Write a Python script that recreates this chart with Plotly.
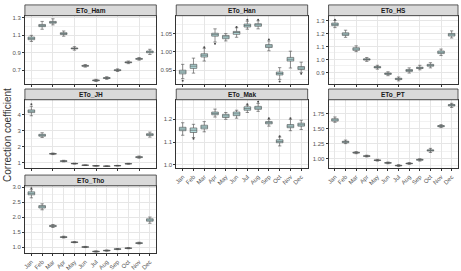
import plotly.graph_objects as go

MONTHS = ["Jan", "Feb", "Mar", "Apr", "May", "Jun", "Jul", "Aug", "Sep", "Oct", "Nov", "Dec"]
STATIONS = ["ETo_Ham", "ETo_Han", "ETo_HS", "ETo_JH", "ETo_Mak", "ETo_PT", "ETo_Tho"]

# ---- box statistics (lo, q1, med, q3, hi) ----
HAM_LO = [1.03, 1.17, 1.22, 1.09, 0.93, 0.735, 0.57, 0.595, 0.685, 0.775, 0.815, 0.88]
HAM_Q1 = [1.05, 1.20, 1.24, 1.11, 0.945, 0.745, 0.578, 0.605, 0.695, 0.785, 0.825, 0.90]
HAM_MED = [1.065, 1.21, 1.25, 1.12, 0.95, 0.75, 0.583, 0.61, 0.70, 0.79, 0.83, 0.91]
HAM_Q3 = [1.08, 1.225, 1.26, 1.13, 0.955, 0.755, 0.588, 0.615, 0.705, 0.795, 0.835, 0.92]
HAM_HI = [1.10, 1.26, 1.29, 1.15, 0.97, 0.765, 0.595, 0.625, 0.715, 0.805, 0.845, 0.94]

HAN_LO = [0.927, 0.942, 0.975, 1.027, 1.030, 1.040, 1.062, 1.063, 1.003, 0.925, 0.956, 0.944]
HAN_Q1 = [0.940, 0.955, 0.986, 1.043, 1.036, 1.048, 1.068, 1.070, 1.012, 0.937, 0.975, 0.952]
HAN_MED = [0.945, 0.961, 0.991, 1.047, 1.041, 1.053, 1.072, 1.074, 1.016, 0.941, 0.980, 0.956]
HAN_Q3 = [0.950, 0.966, 0.995, 1.051, 1.045, 1.056, 1.076, 1.077, 1.020, 0.945, 0.985, 0.960]
HAN_HI = [0.966, 0.983, 1.010, 1.063, 1.050, 1.066, 1.084, 1.085, 1.030, 0.957, 1.002, 0.972]

HS_LO = [1.245, 1.17, 1.06, 0.985, 0.925, 0.875, 0.835, 0.895, 0.92, 0.935, 1.03, 1.165]
HS_Q1 = [1.26, 1.185, 1.07, 0.995, 0.935, 0.885, 0.845, 0.908, 0.93, 0.948, 1.045, 1.18]
HS_MED = [1.27, 1.195, 1.08, 1.0, 0.94, 0.89, 0.85, 0.915, 0.935, 0.955, 1.055, 1.19]
HS_Q3 = [1.28, 1.205, 1.09, 1.005, 0.945, 0.895, 0.855, 0.922, 0.94, 0.962, 1.065, 1.20]
HS_HI = [1.30, 1.225, 1.105, 1.015, 0.955, 0.905, 0.865, 0.935, 0.955, 0.975, 1.08, 1.22]

JH_LO = [3.95, 2.58, 1.50, 1.04, 0.90, 0.81, 0.77, 0.75, 0.78, 0.89, 1.27, 2.60]
JH_Q1 = [4.15, 2.66, 1.53, 1.07, 0.92, 0.82, 0.78, 0.76, 0.79, 0.91, 1.31, 2.70]
JH_MED = [4.24, 2.72, 1.55, 1.09, 0.93, 0.83, 0.79, 0.77, 0.80, 0.92, 1.34, 2.76]
JH_Q3 = [4.32, 2.78, 1.57, 1.11, 0.94, 0.84, 0.80, 0.78, 0.81, 0.93, 1.37, 2.82]
JH_HI = [4.55, 2.88, 1.60, 1.14, 0.96, 0.85, 0.81, 0.79, 0.82, 0.95, 1.41, 2.92]

MAK_LO = [1.130, 1.120, 1.145, 1.210, 1.200, 1.205, 1.230, 1.235, 1.170, 1.083, 1.150, 1.155]
MAK_Q1 = [1.150, 1.142, 1.158, 1.220, 1.208, 1.216, 1.240, 1.244, 1.180, 1.097, 1.163, 1.170]
MAK_MED = [1.157, 1.152, 1.166, 1.226, 1.215, 1.224, 1.247, 1.250, 1.185, 1.103, 1.170, 1.176]
MAK_Q3 = [1.165, 1.162, 1.174, 1.232, 1.222, 1.232, 1.255, 1.257, 1.190, 1.110, 1.177, 1.183]
MAK_HI = [1.185, 1.178, 1.190, 1.245, 1.230, 1.240, 1.262, 1.270, 1.200, 1.122, 1.200, 1.196]

PT_LO = [1.61, 1.25, 1.08, 1.025, 0.955, 0.91, 0.865, 0.90, 0.955, 1.10, 1.52, 1.86]
PT_Q1 = [1.63, 1.265, 1.09, 1.035, 0.965, 0.92, 0.875, 0.91, 0.97, 1.125, 1.535, 1.885]
PT_MED = [1.65, 1.28, 1.097, 1.04, 0.97, 0.925, 0.88, 0.915, 0.977, 1.136, 1.545, 1.898]
PT_Q3 = [1.67, 1.29, 1.105, 1.045, 0.975, 0.93, 0.885, 0.92, 0.985, 1.145, 1.555, 1.91]
PT_HI = [1.70, 1.31, 1.115, 1.055, 0.985, 0.94, 0.895, 0.93, 0.995, 1.17, 1.57, 1.93]

THO_LO = [2.65, 2.25, 1.66, 1.31, 1.15, 0.99, 0.84, 0.87, 0.92, 0.95, 1.11, 1.80]
THO_Q1 = [2.75, 2.31, 1.69, 1.33, 1.16, 1.00, 0.85, 0.88, 0.93, 0.96, 1.13, 1.87]
THO_MED = [2.80, 2.35, 1.71, 1.34, 1.17, 1.01, 0.86, 0.89, 0.94, 0.97, 1.14, 1.91]
THO_Q3 = [2.85, 2.39, 1.73, 1.35, 1.18, 1.02, 0.87, 0.90, 0.95, 0.98, 1.15, 1.95]
THO_HI = [2.92, 2.45, 1.76, 1.37, 1.19, 1.03, 0.88, 0.91, 0.96, 0.99, 1.17, 2.01]

# outliers (month, value)
HAN_OUT_X = ["Jan", "Mar", "Apr", "Jun", "Jul", "Aug", "Sep", "Oct", "Dec"]
HAN_OUT_Y = [0.921, 1.013, 1.022, 1.068, 1.088, 1.088, 1.034, 0.919, 0.940]
MAK_OUT_X = ["Feb", "Jul", "Aug", "Sep", "Oct", "Nov"]
MAK_OUT_Y = [1.115, 1.266, 1.277, 1.205, 1.126, 1.205]
JH_OUT_X = ["Jan"]
JH_OUT_Y = [4.68]
THO_OUT_X = ["Jan"]
THO_OUT_Y = [2.97]
HS_OUT_X = ["Jan"]
HS_OUT_Y = [1.305]

# tick specs per panel
Y_TICK0 = [0.7, 0.95, 0.9, 1, 1.0, 1.0, 1.0]
Y_DTICK = [0.2, 0.05, 0.1, 1, 0.1, 0.25, 0.5]
Y_FMT = [".1f", ".2f", ".1f", "d", ".1f", ".2f", ".1f"]
Y_RANGE = [[0.54, 1.326], [0.912, 1.099], [0.81, 1.337], [0.64, 4.96],
           [0.985, 1.286], [0.835, 1.99], [0.80, 3.05]]

STATS = [
    (HAM_LO, HAM_Q1, HAM_MED, HAM_Q3, HAM_HI),
    (HAN_LO, HAN_Q1, HAN_MED, HAN_Q3, HAN_HI),
    (HS_LO, HS_Q1, HS_MED, HS_Q3, HS_HI),
    (JH_LO, JH_Q1, JH_MED, JH_Q3, JH_HI),
    (MAK_LO, MAK_Q1, MAK_MED, MAK_Q3, MAK_HI),
    (PT_LO, PT_Q1, PT_MED, PT_Q3, PT_HI),
    (THO_LO, THO_Q1, THO_MED, THO_Q3, THO_HI),
]
OUTS = {1: (HAN_OUT_X, HAN_OUT_Y), 4: (MAK_OUT_X, MAK_OUT_Y), 3: (JH_OUT_X, JH_OUT_Y),
        6: (THO_OUT_X, THO_OUT_Y), 2: (HS_OUT_X, HS_OUT_Y)}

W, H = 461, 271
COLS = [(23, 155), (175, 307), (328, 458)]
ROWS = [(4, 15, 85), (90, 101, 171), (178, 189, 258)]  # strip top, plot top, plot bottom
POS = [(0, 0), (0, 1), (0, 2), (1, 0), (1, 1), (1, 2), (2, 0)]
SHOW_X = [False, False, False, False, True, True, True]

FILL = "#b4dcdc"
LINE = "#4a4a4a"
FONT = "Liberation Sans"

fig = go.Figure()
layout = dict(width=W, height=H, margin=dict(l=0, r=0, t=0, b=0),
              paper_bgcolor="white", plot_bgcolor="white", showlegend=False,
              font=dict(family=FONT, size=6, color="#4d4d4d"))
shapes, annos = [], []

for i, name in enumerate(STATIONS):
    r, c = POS[i]
    x0, x1 = COLS[c]
    st, pt, pb = ROWS[r]
    xa = "xaxis" if i == 0 else f"xaxis{i+1}"
    ya = "yaxis" if i == 0 else f"yaxis{i+1}"
    xr = "x" if i == 0 else f"x{i+1}"
    yr = "y" if i == 0 else f"y{i+1}"
    lo, q1, med, q3, hi = STATS[i]
    fig.add_trace(go.Box(x=MONTHS, lowerfence=lo, q1=q1, median=med, q3=q3, upperfence=hi,
                         xaxis=xr, yaxis=yr, fillcolor=FILL, line=dict(color=LINE, width=0.6),
                         width=0.62, whiskerwidth=0.5, boxpoints=False, hoverinfo="skip"))
    if i in OUTS:
        ox, oy = OUTS[i]
        fig.add_trace(go.Scatter(x=ox, y=oy, mode="markers", xaxis=xr, yaxis=yr,
                                 marker=dict(size=2.0, color=LINE), hoverinfo="skip"))
    layout[xa] = dict(domain=[x0 / W, x1 / W], anchor=yr, type="category",
                      categoryorder="array", categoryarray=MONTHS, range=[-0.6, 11.6],
                      showgrid=True, gridcolor="#e6e6e6", gridwidth=0.6,
                      showline=True, mirror=True, linecolor="#333333", linewidth=0.8,
                      ticks="outside", ticklen=2, tickcolor="#333333", tickwidth=0.6,
                      showticklabels=SHOW_X[i], tickangle=-45,
                      tickfont=dict(size=6, color="#555555"), zeroline=False, fixedrange=True)
    layout[ya] = dict(domain=[1 - pb / H, 1 - pt / H], anchor=xr, range=Y_RANGE[i],
                      tickmode="linear", tick0=Y_TICK0[i], dtick=Y_DTICK[i], tickformat=Y_FMT[i],
                      showgrid=True, gridcolor="#e6e6e6", gridwidth=0.6,
                      minor=dict(tick0=Y_TICK0[i], dtick=Y_DTICK[i] / 2, showgrid=True,
                                 gridcolor="#f2f2f2", gridwidth=0.5, ticks=""),
                      showline=True, mirror=True, linecolor="#333333", linewidth=0.8,
                      ticks="outside", ticklen=2, tickcolor="#333333", tickwidth=0.6,
                      tickfont=dict(size=6, color="#555555"), zeroline=False, fixedrange=True)
    shapes.append(dict(type="rect", xref="paper", yref="paper", x0=x0 / W, x1=x1 / W,
                       y0=1 - pt / H, y1=1 - st / H, fillcolor="#d9d9d9",
                       line=dict(color="#333333", width=0.8), layer="above"))
    annos.append(dict(text="<b>" + name + "</b>", xref="paper", yref="paper", x=(x0 + x1) / 2 / W,
                      y=1 - (st + pt) / 2 / H, showarrow=False, xanchor="center", yanchor="middle",
                      font=dict(size=6.5, color="#1a1a1a", family=FONT)))

annos.append(dict(text="Correction coefficient", xref="paper", yref="paper", x=6 / W,
                  y=1 - 137 / H, textangle=-90, showarrow=False, xanchor="center",
                  yanchor="middle", font=dict(size=10, color="#333333", family=FONT)))
layout["shapes"] = shapes
layout["annotations"] = annos
fig.update_layout(**layout)
fig.write_html("out.html")
